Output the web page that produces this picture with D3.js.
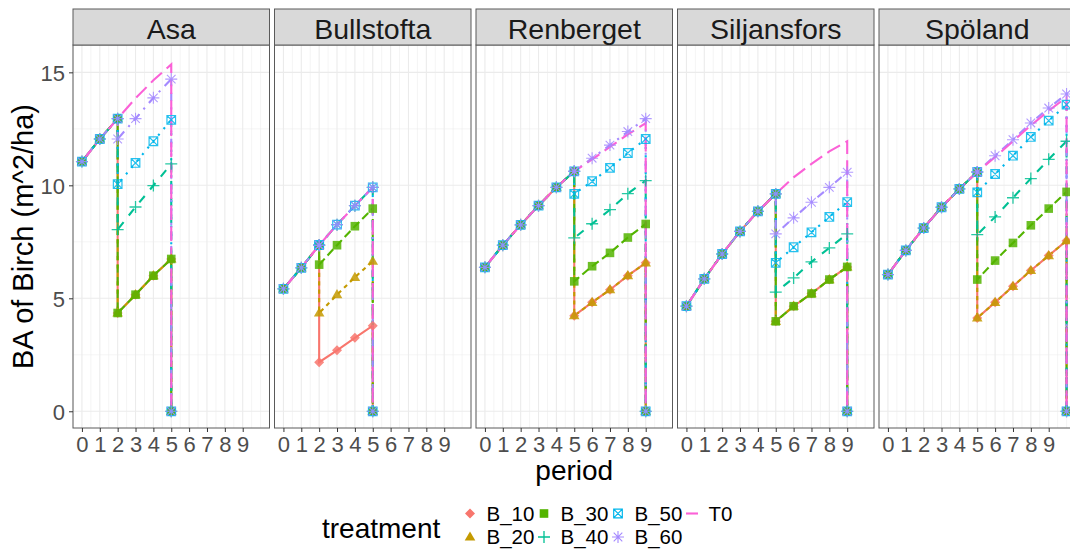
<!DOCTYPE html>
<meta charset="utf-8">
<style>
    html,
    body {
        margin: 0;
        background: #fff;
    }

    svg {
        display: block;
        font-family: "Liberation Sans", Arial, sans-serif;
    }

    .grid-major {
        stroke: #ebebeb;
        stroke-width: 1.1px;
    }

    .grid-minor {
        stroke: #ebebeb;
        stroke-width: 0.55px;
    }

    .frame {
        fill: none;
        stroke: #5a5a5a;
        stroke-width: 1px;
    }

    .strip {
        fill: #d9d9d9;
        stroke: #5a5a5a;
        stroke-width: 1px;
    }

    .strip-text {
        font-size: 28.5px;
        fill: #1a1a1a;
    }

    .tick text {
        font-size: 22px;
        fill: #4d4d4d;
    }

    .tick line {
        stroke: #333;
    }

    .axis-title {
        font-size: 28px;
        fill: #000;
    }

    .legend-label {
        font-size: 20.5px;
        fill: #000;
    }
</style>

<body>
    <script src="https://d3js.org/d3.v7.min.js"></script>
    <script>

        var sites = ["Asa", "Bullstofta", "Renberget", "Siljansfors", "Spöland"];
        var treatments = ["B_10", "B_20", "B_30", "B_40", "B_50", "B_60", "T0"];
        var xTicks = [0, 1, 2, 3, 4, 5, 6, 7, 8, 9];
        var yTicks = [0, 5, 10, 15];

        // period of the thinning and of the final cut, per site
        var cutPeriod = [2, 2, 5, 5, 5];
        var endPeriod = [5, 5, 9, 9, 10];

        // values shared by every treatment from period 0 up to the thinning
        var asaShared = [11.05, 12.05, 12.95];
        var bullstoftaShared = [5.42, 6.35, 7.35];
        var renbergetShared = [6.37, 7.35, 8.25, 9.1, 9.91, 10.62];
        var siljansforsShared = [4.65, 5.86, 6.96, 7.96, 8.85, 9.62];
        var spolandShared = [6.05, 7.12, 8.11, 9.03, 9.84, 10.59];

        // values from the thinning period to the final period, one row per treatment
        var asaAfter = [
            [4.35, 5.16, 6.0, 6.74],
            [4.35, 5.16, 6.0, 6.74],
            [4.35, 5.16, 6.0, 6.74],
            [8.04, 9.04, 9.99, 10.95],
            [10.05, 10.99, 11.95, 12.9],
            [12.05, 12.95, 13.87, 14.7],
            [12.95, 13.85, 14.65, 15.35]
        ];
        var bullstoftaAfter = [
            [2.17, 2.7, 3.25, 3.79],
            [4.35, 5.16, 5.93, 6.64],
            [6.49, 7.35, 8.19, 8.97],
            [7.35, 8.26, 9.1, 9.91],
            [7.35, 8.26, 9.1, 9.91],
            [7.35, 8.26, 9.1, 9.91],
            [7.35, 8.26, 9.1, 9.91]
        ];
        var renbergetAfter = [
            [4.23, 4.82, 5.38, 6.0, 6.57],
            [4.23, 4.82, 5.38, 6.0, 6.57],
            [5.75, 6.42, 7.01, 7.69, 8.29],
            [7.67, 8.3, 8.92, 9.63, 10.21],
            [9.62, 10.18, 10.77, 11.43, 12.05],
            [10.62, 11.2, 11.78, 12.38, 12.95],
            [10.62, 11.15, 11.7, 12.25, 12.75]
        ];
        var siljansforsAfter = [
            [3.98, 4.65, 5.21, 5.83, 6.39],
            [3.98, 4.65, 5.21, 5.83, 6.39],
            [3.98, 4.65, 5.21, 5.83, 6.39],
            [5.27, 5.9, 6.61, 7.23, 7.85],
            [6.57, 7.26, 7.92, 8.6, 9.26],
            [7.85, 8.56, 9.25, 9.91, 10.58],
            [9.62, 10.35, 10.95, 11.5, 11.95]
        ];
        var spolandAfter = [
            [4.13, 4.82, 5.53, 6.23, 6.89, 7.55],
            [4.13, 4.82, 5.53, 6.23, 6.89, 7.55],
            [5.83, 6.67, 7.45, 8.23, 8.97, 9.71],
            [7.82, 8.6, 9.45, 10.3, 11.15, 11.95],
            [9.69, 10.5, 11.31, 12.14, 12.86, 13.57],
            [10.59, 11.31, 12.02, 12.76, 13.42, 14.04],
            [10.59, 11.25, 11.95, 12.65, 13.3, 13.9]
        ];

        var sharedValues = [asaShared, bullstoftaShared, renbergetShared, siljansforsShared, spolandShared];
        var afterValues = [asaAfter, bullstoftaAfter, renbergetAfter, siljansforsAfter, spolandAfter];

        var colours = ["#F8766D", "#C49A00", "#53B400", "#00C094", "#00B6EB", "#A58AFF", "#FB61D7"];
        // R linetypes, hex digits in units of the line width
        var linetypes = ["", "22", "42", "44", "13", "1343", "73"];
        var shapes = ["diamond", "triangle", "square", "plus", "squarecross", "asterisk", null];

        var width = 1070,
            height = 552,
            lineW = 2.1,
            panelLeft = 73,
            panelStride = 201.5,
            panelW = 196.5,
            panelTop = 45,
            panelBottom = 428,
            stripTop = 9;

        var x = d3.scaleLinear().domain([-0.5, 10.5]).range([0, panelW]);
        var y = d3.scaleLinear().domain([-0.74, 16.21]).range([panelBottom, panelTop]);

        var line = d3.line()
            .x(function (d) { return x(d[0]); })
            .y(function (d) { return y(d[1]); });

        function dashArray(lt) {
            if (!lt) return null;
            return lt.split("").map(function (c) { return parseInt(c, 16) * lineW; }).join(",");
        }

        function marker(sel, shape, colour) {
            if (shape === "diamond") {
                sel.append("path").attr("d", "M0,-5L5,0L0,5L-5,0Z").attr("fill", colour);
            } else if (shape === "triangle") {
                sel.append("path").attr("d", "M0,-5.6L5.3,3.6L-5.3,3.6Z").attr("fill", colour);
            } else if (shape === "square") {
                sel.append("rect").attr("x", -4.3).attr("y", -4.3).attr("width", 8.6).attr("height", 8.6).attr("fill", colour);
            } else if (shape === "plus") {
                sel.append("path").attr("d", "M-6,0H6M0,-6V6").attr("stroke", colour).attr("stroke-width", 1.3).attr("fill", "none");
            } else if (shape === "squarecross") {
                sel.append("path").attr("d", "M-4.3,-4.3H4.3V4.3H-4.3ZM-4.3,-4.3L4.3,4.3M4.3,-4.3L-4.3,4.3")
                    .attr("stroke", colour).attr("stroke-width", 1.2).attr("fill", "none");
            } else if (shape === "asterisk") {
                sel.append("path").attr("d", "M-6,0H6M0,-6V6M-4.3,-4.3L4.3,4.3M4.3,-4.3L-4.3,4.3")
                    .attr("stroke", colour).attr("stroke-width", 1.1).attr("fill", "none");
            }
        }

        function buildSeries(si) {
            var shared = sharedValues[si], after = afterValues[si], cut = cutPeriod[si];
            return treatments.map(function (t, ti) {
                var pts = shared.map(function (v, p) { return [p, v]; });
                after[ti].forEach(function (v, k) { pts.push([cut + k, v]); });
                pts.push([endPeriod[si], 0]);
                return { t: t, ti: ti, pts: pts };
            });
        }

        var svg = d3.select("body").append("svg")
            .attr("width", width)
            .attr("height", height);

        svg.append("rect").attr("width", width).attr("height", height).attr("fill", "#fff");

        var defs = svg.append("defs");

        // minor grid: half-way between the breaks, extended one step past them
        var xMinor = d3.range(-0.5, 10.01, 0.5).filter(function (v) { return xTicks.indexOf(v) < 0; });
        var yMinor = [2.5, 7.5, 12.5];

        sites.forEach(function (site, si) {
            var left = panelLeft + si * panelStride;
            var g = svg.append("g").attr("transform", "translate(" + left + ",0)");

            defs.append("clipPath").attr("id", "clip" + si)
                .append("rect").attr("x", 0).attr("y", panelTop).attr("width", panelW).attr("height", panelBottom - panelTop);

            // grid
            g.selectAll(".gx-minor").data(xMinor).enter().append("line")
                .attr("class", "grid-minor")
                .attr("x1", function (d) { return x(d); }).attr("x2", function (d) { return x(d); })
                .attr("y1", panelTop).attr("y2", panelBottom);
            g.selectAll(".gy-minor").data(yMinor).enter().append("line")
                .attr("class", "grid-minor")
                .attr("x1", 0).attr("x2", panelW)
                .attr("y1", function (d) { return y(d); }).attr("y2", function (d) { return y(d); });
            g.selectAll(".gx-major").data(xTicks).enter().append("line")
                .attr("class", "grid-major")
                .attr("x1", function (d) { return x(d); }).attr("x2", function (d) { return x(d); })
                .attr("y1", panelTop).attr("y2", panelBottom);
            g.selectAll(".gy-major").data(yTicks).enter().append("line")
                .attr("class", "grid-major")
                .attr("x1", 0).attr("x2", panelW)
                .attr("y1", function (d) { return y(d); }).attr("y2", function (d) { return y(d); });

            var series = buildSeries(si);
            var plot = g.append("g").attr("clip-path", "url(#clip" + si + ")");

            // all lines first, then all points, like ggplot layers
            series.forEach(function (s) {
                plot.append("path")
                    .attr("d", line(s.pts))
                    .attr("fill", "none")
                    .attr("stroke", colours[s.ti])
                    .attr("stroke-width", lineW)
                    .attr("stroke-dasharray", dashArray(linetypes[s.ti]));
            });
            series.forEach(function (s) {
                if (!shapes[s.ti]) return;
                s.pts.forEach(function (p) {
                    var m = plot.append("g")
                        .attr("transform", "translate(" + x(p[0]) + "," + y(p[1]) + ")")
                        .attr("opacity", 0.85);
                    marker(m, shapes[s.ti], colours[s.ti]);
                });
            });

            g.append("rect").attr("class", "frame")
                .attr("x", 0).attr("y", panelTop).attr("width", panelW).attr("height", panelBottom - panelTop);

            // strip
            g.append("rect").attr("class", "strip")
                .attr("x", 0).attr("y", stripTop).attr("width", panelW).attr("height", panelTop - stripTop);
            g.append("text").attr("class", "strip-text")
                .attr("x", panelW / 2).attr("y", 39)
                .attr("text-anchor", "middle")
                .text(site);

            // x axis
            var xAxis = g.append("g").attr("transform", "translate(0," + panelBottom + ")")
                .call(d3.axisBottom(x).tickValues(xTicks).tickSize(4).tickPadding(5).tickFormat(d3.format("d")));
            xAxis.select(".domain").remove();
            xAxis.selectAll(".tick text").attr("dy", null).attr("y", 24);
        });

        // y axis (left panel only)
        var yAxis = svg.append("g").attr("transform", "translate(" + panelLeft + ",0)")
            .call(d3.axisLeft(y).tickValues(yTicks).tickSize(4).tickPadding(4));
        yAxis.select(".domain").remove();
        yAxis.selectAll(".tick text").attr("dy", "0.36em");

        svg.append("text").attr("class", "axis-title")
            .attr("transform", "translate(33," + (panelTop + panelBottom) / 2 + ") rotate(-90)")
            .attr("text-anchor", "middle")
            .style("font-size", "29px")
            .text("BA of Birch (m^2/ha)");

        svg.append("text").attr("class", "axis-title")
            .attr("x", (panelLeft + panelLeft + 4 * panelStride + panelW) / 2)
            .attr("y", 480)
            .attr("text-anchor", "middle")
            .text("period");

        // legend
        var legend = svg.append("g");
        legend.append("text").attr("class", "axis-title")
            .attr("x", 322).attr("y", 538)
            .text("treatment");

        treatments.forEach(function (t, ti) {
            var col = Math.floor(ti / 2), row = ti % 2;
            var kx = 470 + col * 74, ky = 513.5 + row * 23.5;
            var key = legend.append("g").attr("transform", "translate(" + kx + "," + ky + ")");
            if (shapes[ti]) {
                marker(key, shapes[ti], colours[ti]);
            } else {
                key.append("line").attr("x1", -6).attr("x2", 6)
                    .attr("stroke", colours[ti]).attr("stroke-width", lineW);
            }
            legend.append("text").attr("class", "legend-label")
                .attr("x", kx + 16.5).attr("y", ky + 7.4)
                .text(t);
        });

    </script>
</body>

</html>
